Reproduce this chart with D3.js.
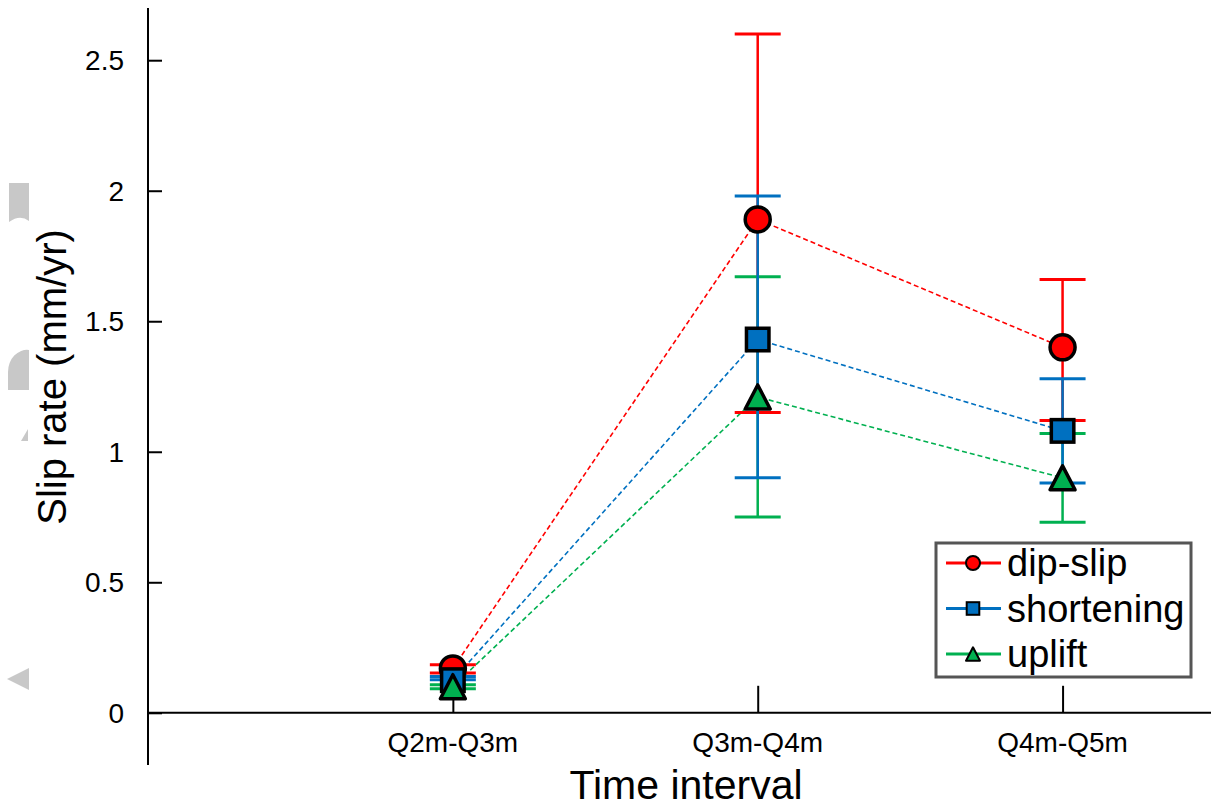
<!DOCTYPE html>
<html>
<head>
<meta charset="utf-8">
<script src="https://cdn.jsdelivr.net/npm/d3@7"></script>
<style>
  html, body { margin: 0; padding: 0; background: #fff; }
  svg { display: block; font-family: "Liberation Sans", Arial, sans-serif; }
</style>
</head>
<body>
<svg id="chart" width="1211" height="807"></svg>
<script>
// ---- data ----
const categories = ["Q2m-Q3m", "Q3m-Q4m", "Q4m-Q5m"];
const seriesNames = ["dip-slip", "shortening", "uplift"];
const dipSlip      = [0.17, 1.89, 1.40];
const dipSlipLow   = [0.152, 1.15, 1.12];
const dipSlipHigh  = [0.184, 2.60, 1.66];
const shortening     = [0.125, 1.43, 1.08];
const shorteningLow  = [0.127, 0.90, 0.88];
const shorteningHigh = [0.139, 1.98, 1.28];
const uplift     = [0.10, 1.21, 0.90];
const upliftLow  = [0.092, 0.75, 0.73];
const upliftHigh = [0.107, 1.67, 1.07];
const yTicks = [0, 0.5, 1, 1.5, 2, 2.5];
const yTickLabels = ["0", "0.5", "1", "1.5", "2", "2.5"];

const colors = ["#ff0000", "#0070c0", "#00b050"];
const shapes = ["circle", "square", "triangle"];

const series = [
  { name: seriesNames[0], v: dipSlip, lo: dipSlipLow, hi: dipSlipHigh, color: colors[0], shape: shapes[0] },
  { name: seriesNames[1], v: shortening, lo: shorteningLow, hi: shorteningHigh, color: colors[1], shape: shapes[1] },
  { name: seriesNames[2], v: uplift, lo: upliftLow, hi: upliftHigh, color: colors[2], shape: shapes[2] }
];

const svg = d3.select("#chart");

// ---- scales ----
const x = d3.scaleLinear().domain([-1, 2.5]).range([148, 1215]);
const y = d3.scaleLinear().domain([-0.2, 2.7]).range([765, 8]);

// ---- faint artifacts at left edge ----
const art = svg.append("g").attr("fill", "#c8c8c8");
art.append("path").attr("d", "M9,183 H29 V221 Q20,214 9,222 Z");
art.append("path").attr("d", "M8,390 V372 A19,22 0 0 1 29,350 V390 Z");
art.append("path").attr("d", "M21,441 L28,429 L28,441 Z");
art.append("path").attr("d", "M7,679 L29,668 L29,690 Z");

// ---- axes ----
const yAxis = d3.axisRight(y).tickValues(yTicks).tickSize(14).tickFormat("");
const gy = svg.append("g").attr("transform", `translate(${x(-1)},0)`).call(yAxis);
gy.select(".domain").remove();
gy.selectAll(".tick line").attr("stroke", "#000").attr("stroke-width", 2);
svg.append("line").attr("x1", x(-1)).attr("x2", x(-1)).attr("y1", y(2.7)).attr("y2", y(-0.2))
  .attr("stroke", "#000").attr("stroke-width", 2);

svg.append("g").selectAll("text").data(yTicks).join("text")
  .attr("x", 124).attr("y", d => y(d)).attr("dy", "0.35em")
  .attr("text-anchor", "end").attr("font-size", 28).attr("fill", "#000")
  .text((d, i) => yTickLabels[i]);

const xAxis = d3.axisTop(x).tickValues([0, 1, 2]).tickSize(27).tickFormat("");
const gx = svg.append("g").attr("transform", `translate(0,${y(0)})`).call(xAxis);
gx.select(".domain").remove();
gx.selectAll(".tick line").attr("stroke", "#000").attr("stroke-width", 2);
svg.append("line").attr("x1", x(-1)).attr("x2", 1211).attr("y1", y(0)).attr("y2", y(0))
  .attr("stroke", "#000").attr("stroke-width", 2);

svg.append("g").selectAll("text").data(categories).join("text")
  .attr("x", (d, i) => x(i)).attr("y", 752)
  .attr("text-anchor", "middle").attr("font-size", 28).attr("fill", "#000")
  .text(d => d);

svg.append("text").attr("x", 686).attr("y", 799).attr("text-anchor", "middle")
  .attr("font-size", 41).attr("fill", "#000").text("Time interval");
svg.append("text").attr("transform", "translate(66,377) rotate(-90)").attr("text-anchor", "middle")
  .attr("font-size", 40).attr("fill", "#000").text("Slip rate (mm/yr)");

// ---- dashed connecting lines ----
const line = d3.line().x((d, i) => x(i)).y(d => y(d));
series.forEach(s => {
  svg.append("path").attr("d", line(s.v)).attr("fill", "none")
    .attr("stroke", s.color).attr("stroke-width", 1.6).attr("stroke-dasharray", "5,3");
});

// ---- error bars ----
const capW = 23;
[0, 2, 1].forEach(k => {
  const s = series[k];
  const g = svg.append("g").attr("stroke", s.color);
  s.v.forEach((v, i) => {
    g.append("line").attr("x1", x(i)).attr("x2", x(i)).attr("y1", y(s.lo[i])).attr("y2", y(s.hi[i]))
      .attr("stroke-width", 2.5);
    [s.lo[i], s.hi[i]].forEach(e => {
      g.append("line").attr("x1", x(i) - capW).attr("x2", x(i) + capW).attr("y1", y(e)).attr("y2", y(e))
        .attr("stroke-width", 3);
    });
  });
});

// ---- markers ----
function marker(g, shape, cx, cy, size, color, sw) {
  if (shape === "circle") {
    g.append("circle").attr("cx", cx).attr("cy", cy).attr("r", size / 2)
      .attr("fill", color).attr("stroke", "#000").attr("stroke-width", sw);
  } else if (shape === "square") {
    const s2 = size * 0.9;
    g.append("rect").attr("x", cx - s2 / 2).attr("y", cy - s2 / 2).attr("width", s2).attr("height", s2)
      .attr("fill", color).attr("stroke", "#000").attr("stroke-width", sw);
  } else {
    const h = size;
    g.append("path").attr("d", `M${cx},${cy - h * 0.48} L${cx + h / 2},${cy + h * 0.48} L${cx - h / 2},${cy + h * 0.48} Z`)
      .attr("fill", color).attr("stroke", "#000").attr("stroke-width", sw).attr("stroke-linejoin", "round");
  }
}
const mg = svg.append("g");
series.forEach(s => {
  s.v.forEach((v, i) => marker(mg, s.shape, x(i), y(v), 25, s.color, 3.5));
});

// ---- legend ----
const lg = svg.append("g");
lg.append("rect").attr("x", 936).attr("y", 543).attr("width", 255).attr("height", 134)
  .attr("fill", "#fff").attr("stroke", "#555").attr("stroke-width", 3);
series.forEach((s, i) => {
  const cy = 563 + i * 45.5;
  lg.append("line").attr("x1", 946).attr("x2", 1001).attr("y1", cy).attr("y2", cy)
    .attr("stroke", s.color).attr("stroke-width", 3);
  marker(lg, s.shape, 973, cy, 14, s.color, 2);
  lg.append("text").attr("x", 1007).attr("y", cy).attr("dy", "0.35em")
    .attr("font-size", 38).attr("fill", "#000").text(s.name);
});
</script>
</body>
</html>
